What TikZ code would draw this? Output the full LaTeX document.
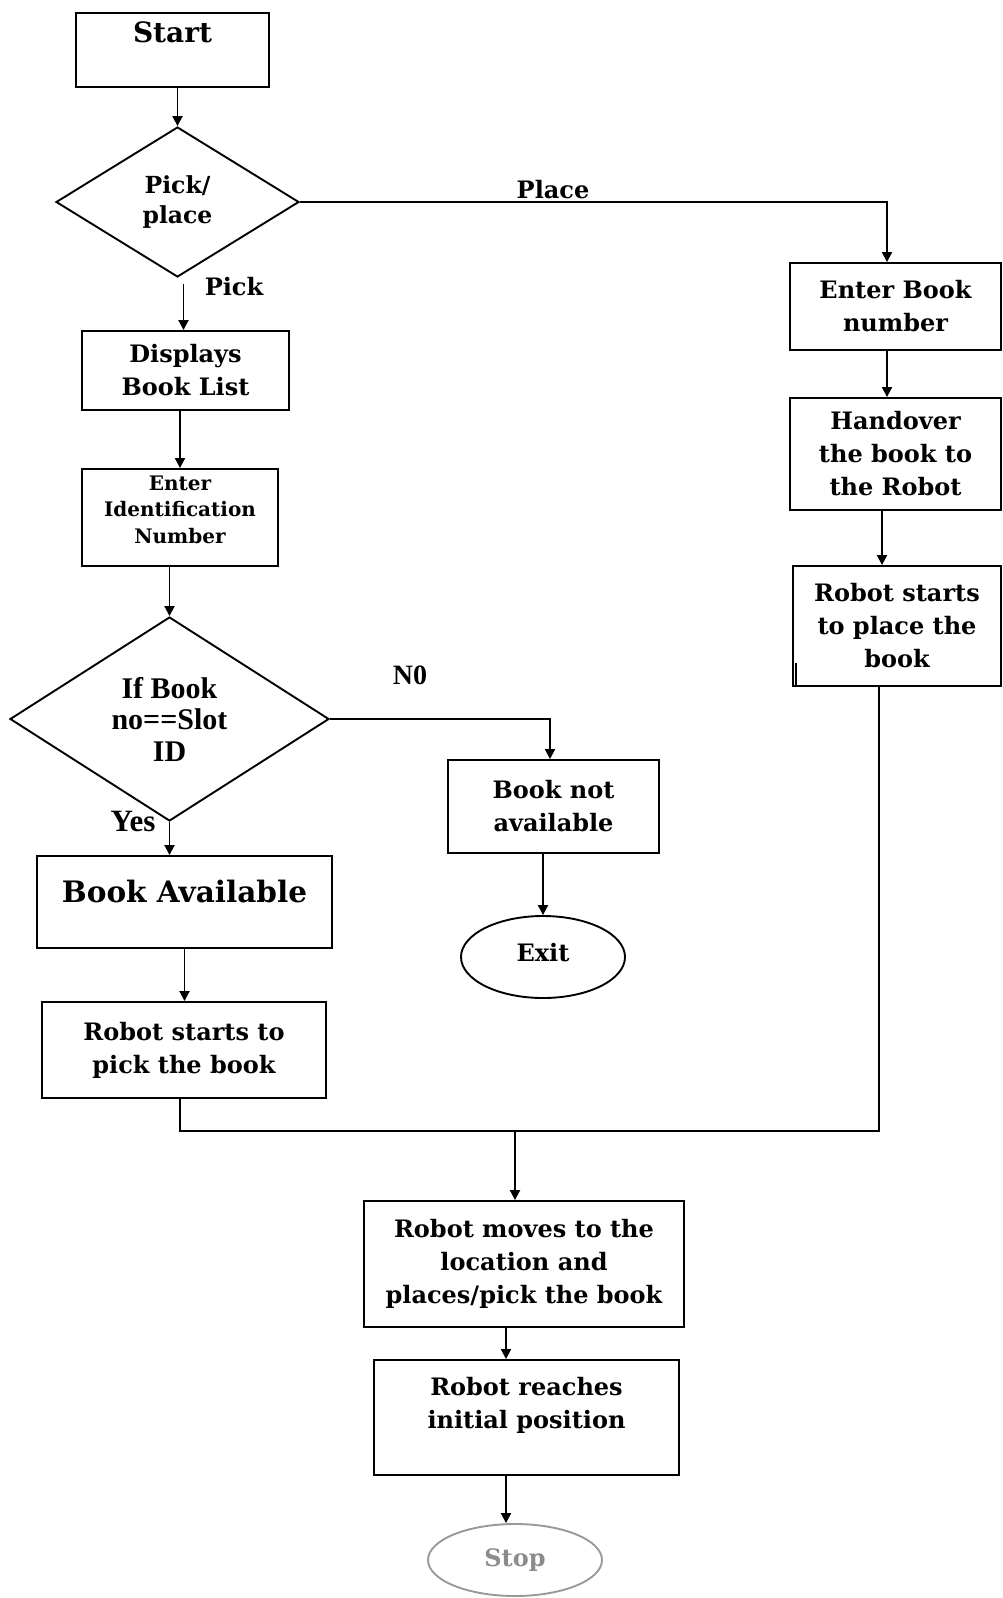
\documentclass[tikz,border=0pt]{standalone}
\usepackage{fontspec}
\setmainfont{DejaVu Serif}
\newfontfamily\timesf{Liberation Serif}
\usetikzlibrary{shapes.geometric,arrows.meta}
\begin{document}
\begin{tikzpicture}[x=1pt,y=-1pt,
  every node/.style={font=\bfseries\fontsize{24}{33}\selectfont},
  box/.style={draw, line width=1.9pt, rectangle, inner sep=0pt, align=center},
  dia/.style={draw, line width=1.9pt, diamond, inner sep=0pt, align=center},
  oval/.style={draw, line width=1.9pt, ellipse, inner sep=0pt},
  conn/.style={line width=1.9pt},
  arr/.style={conn, -{Triangle[length=10pt,width=10pt]}},
  lbl/.style={inner sep=0pt}
]
\useasboundingbox (0,0) rectangle (1002,1598);

% left column
\node[box, minimum width=193pt, minimum height=74pt, text height=20pt, text depth=36pt,
      font=\bfseries\fontsize{28}{30}\selectfont] (start) at (172.5,50) {Start};
\node[dia, minimum width=243pt, minimum height=150pt,
      font=\bfseries\fontsize{23.5}{30}\selectfont] (d1) at (177.5,202) {Pick/\\place};
\node[lbl] (pick) at (234,287) {Pick};
\node[box, minimum width=207pt, minimum height=79pt] (disp) at (185.5,370.5) {Displays\\Book List};
\node[box, minimum width=196pt, minimum height=97pt, text depth=16pt,
      font=\bfseries\fontsize{20}{26.5}\selectfont] (ein) at (180,517.5) {Enter\\Identification\\Number};
\node[dia, minimum width=319pt, minimum height=204pt,
      font=\timesf\bfseries\fontsize{30}{31.5}\selectfont] (d2) at (169.5,719) {If Book\\no==Slot\\ID};
\node[lbl, font=\timesf\bfseries\fontsize{28}{28}\selectfont] (no) at (410,675) {N0};
\node[box, minimum width=211pt, minimum height=93pt] (bna) at (553.5,806.5) {Book not\\available};
\node[oval, minimum width=164pt, minimum height=82pt, text height=18pt, text depth=10pt] (exit) at (543,957) {Exit};
\node[lbl, font=\timesf\bfseries\fontsize{31}{28}\selectfont] (yes) at (133,821) {Yes};
\node[box, minimum width=295pt, minimum height=92pt, text height=22pt, text depth=22pt,
      font=\bfseries\fontsize{29.5}{32}\selectfont] (ba) at (184.5,902) {Book Available};
\node[box, minimum width=284pt, minimum height=96pt] (rpick) at (184,1050) {Robot starts to\\pick the book};

% right column
\node[lbl] (place) at (553,190) {Place};
\node[box, minimum width=211pt, minimum height=87pt] (ebn) at (895.5,306.5) {Enter Book\\number};
\node[box, minimum width=211pt, minimum height=112pt] (hand) at (895.5,454) {Handover\\the book to\\the Robot};
\node[box, minimum width=208pt, minimum height=120pt] (rplace) at (897,626) {Robot starts\\to place the\\book};

% bottom
\coordinate (jn) at (515,1131);
\node[box, minimum width=320pt, minimum height=126pt] (rm) at (524,1264) {Robot moves to the\\location and\\places/pick the book};
\node[box, minimum width=305pt, minimum height=115pt] (rr) at (526.5,1417.5) {};
\node[lbl, align=center] (rrtext) at (526.5,1405.5) {Robot reaches\\initial position};
\node[oval, draw=black!40, text=black!45, minimum width=174pt, minimum height=72pt] (stop) at (515,1560) {Stop};

% connectors
\draw[arr] (d1.north |- start.south) -- (d1.north);
\draw[arr] ([xshift=6pt,yshift=-6pt]d1.south) -- ([xshift=6pt]d1.south |- disp.north);
\draw[arr] (ein.north |- disp.south) -- (ein.north);
\draw[arr] (d2.north |- ein.south) -- (d2.north);
\draw[arr] (d2.east) -| ([xshift=-3.5pt]bna.north);
\draw[arr] (exit.north |- bna.south) -- (exit.north);
\draw[arr] (d2.south) -- (d2.south |- ba.north);
\draw[arr] (ba.south) -- (ba.south |- rpick.north);

\draw[arr] (d1.east) -| ([xshift=-8.5pt]ebn.north);
\draw[arr] ([xshift=-8.5pt]ebn.south) -- ([xshift=-8.5pt]hand.north);
\draw[arr] ([xshift=-13.5pt]hand.south) -- ([xshift=-13.5pt]hand.south |- rplace.north);
\draw[conn] ([xshift=4pt]rplace.south west) -- ++(0,-24);

\draw[conn] ([xshift=-18pt]rplace.south) |- (jn);
\draw[conn] ([xshift=-4pt]rpick.south) |- (jn);
\draw[arr] (jn) -- (jn |- rm.north);
\draw[arr] ([xshift=-18pt]rm.south) -- ([xshift=-18pt]rm.south |- rr.north);
\draw[arr] ([xshift=-20.5pt]rr.south) -- ([xshift=-20.5pt]rr.south |- stop.north);
\end{tikzpicture}
\end{document}
